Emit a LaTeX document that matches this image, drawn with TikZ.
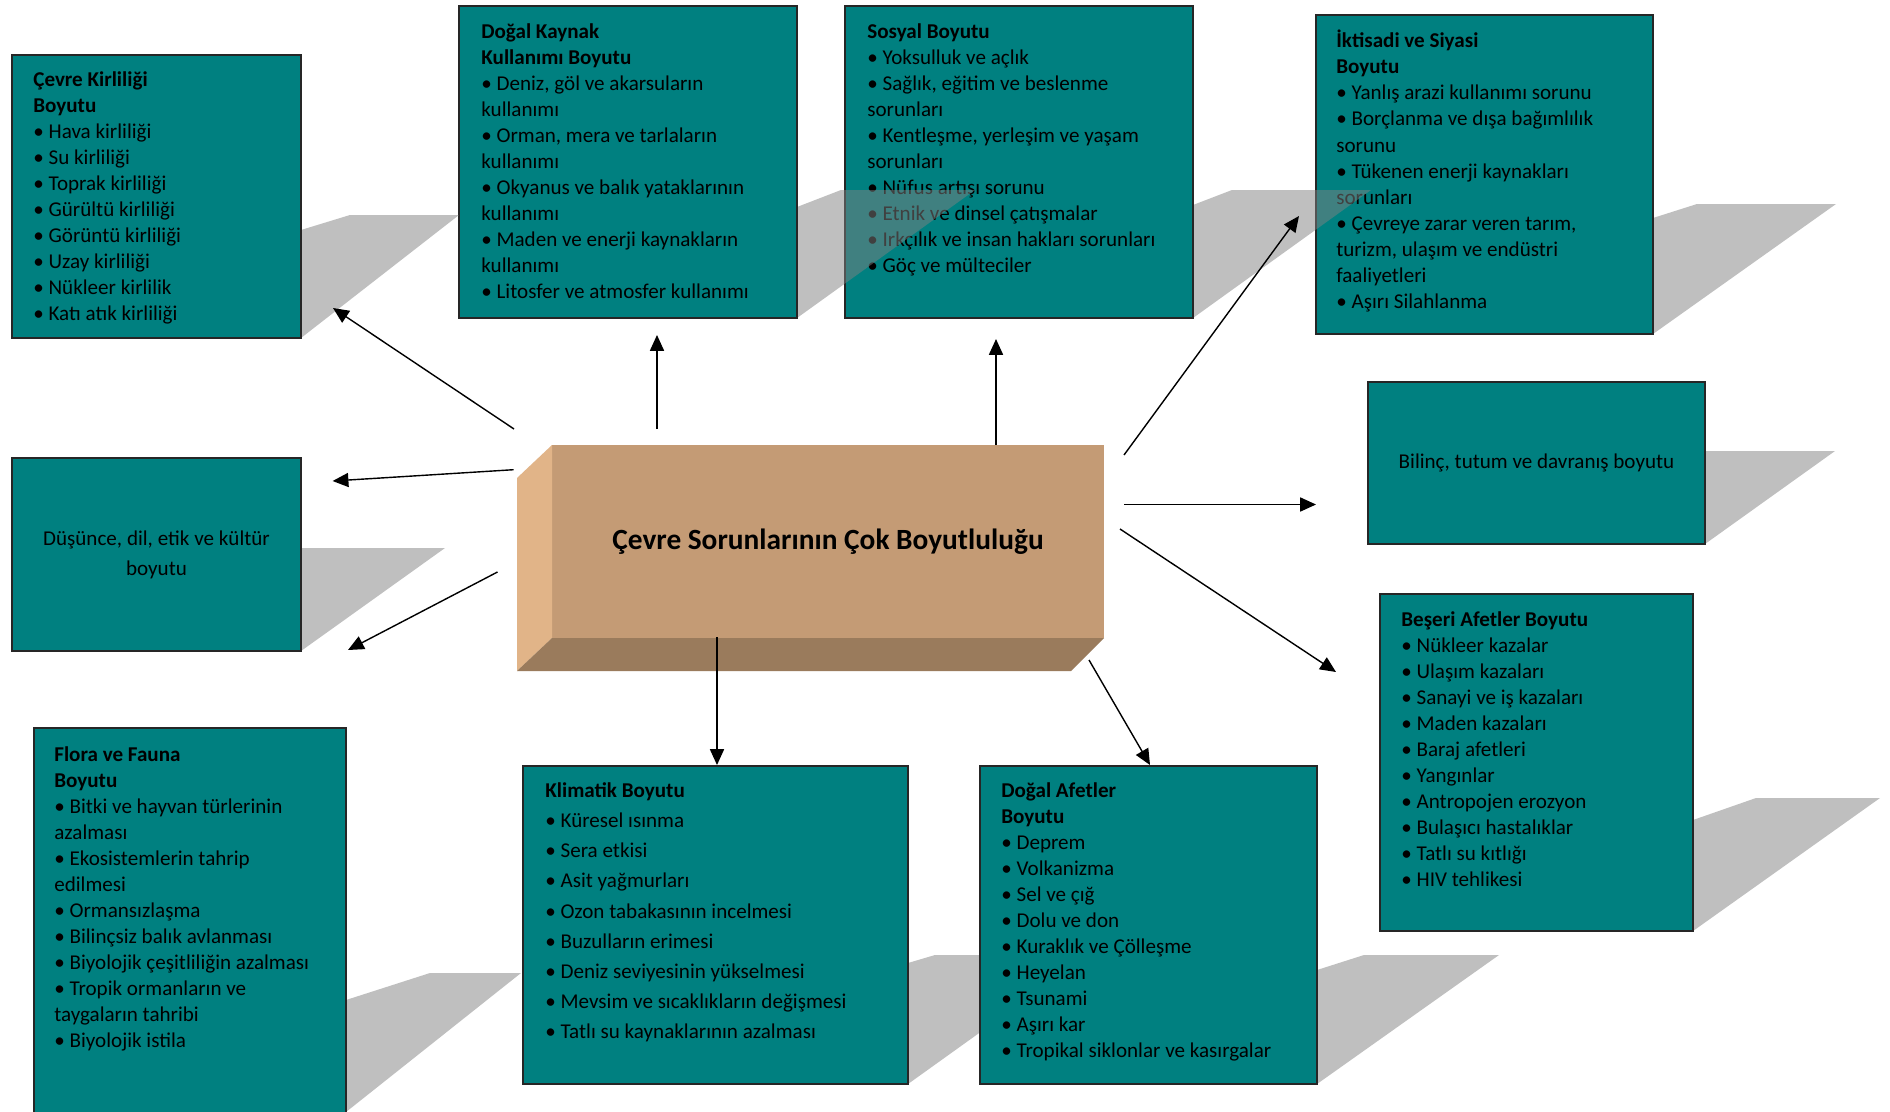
\documentclass[tikz,border=0pt]{standalone}
\usepackage{fontspec}
\setmainfont{Carlito}
\usetikzlibrary{arrows.meta,fit}

\definecolor{boxteal}{RGB}{0,128,128}
\definecolor{corefront}{RGB}{196,155,117}
\definecolor{coreside}{RGB}{225,180,136}
\definecolor{corebottom}{RGB}{154,123,92}

\tikzset{
  dimbox/.style={draw=black!85, line width=1.2pt, fill=boxteal, inner sep=0pt, outer sep=0pt},
  itemtext/.style={anchor=north west, inner sep=0pt, align=left, font=\fontsize{12pt}{14.8pt}\selectfont},
  shadowfill/.style={fill=black!50, fill opacity=0.5},
  arrow/.style={-{Triangle[length=9pt,width=8pt]}, line width=0.8pt}
}

% corner, rise start, rise dx, height, width
\newcommand{\dropshadow}[5]{%
  \fill[shadowfill] #1 -- ++(0,-#2) -- ++(#3,#2-#4) -- ++(#5-#3,0) -- cycle;}

\begin{document}
\begin{tikzpicture}[x=0.02cm, y=-0.02cm]
  \path[use as bounding box, fill=white] (0,0) rectangle (1890,1112);

  % upper row
  \dropshadow{(1653,334)}{116}{44}{130}{183}
  \node[dimbox, fit={(1316,15) (1653,334)}] (iktisadi) {};
  \node[itemtext] (iktisadi-text) at (1336,30) {\textbf{İktisadi ve Siyasi}\\ \textbf{Boyutu}\\
    • Yanlış arazi kullanımı sorunu\\ • Borçlanma ve dışa bağımlılık\\ sorunu\\
    • Tükenen enerji kaynakları\\ sorunları\\ • Çevreye zarar veren tarım,\\
    turizm, ulaşım ve endüstri\\ faaliyetleri\\ • Aşırı Silahlanma};

  \dropshadow{(1193,318)}{113}{39}{128}{178}
  \node[dimbox, fit={(845,6) (1193,318)}] (sosyal) {};
  \node[itemtext] (sosyal-text) at (867,23) {\textbf{Sosyal Boyutu}\\ • Yoksulluk ve açlık\\
    • Sağlık, eğitim ve beslenme\\ sorunları\\ • Kentleşme, yerleşim ve yaşam\\ sorunları\\
    • Nüfus artışı sorunu\\ • Etnik ve dinsel çatışmalar\\ • Irkçılık ve insan hakları sorunları\\
    • Göç ve mülteciler};

  \dropshadow{(797,318)}{111}{44}{128}{178}
  \node[dimbox, fit={(459,6) (797,318)}] (kaynak) {};
  \node[itemtext] (kaynak-text) at (481,23) {\textbf{Doğal Kaynak}\\ \textbf{Kullanımı Boyutu}\\
    • Deniz, göl ve akarsuların\\ kullanımı\\ • Orman, mera ve tarlaların\\ kullanımı\\
    • Okyanus ve balık yataklarının\\ kullanımı\\ • Maden ve enerji kaynakların\\ kullanımı\\
    • Litosfer ve atmosfer kullanımı};

  \dropshadow{(301,338)}{108}{49}{123}{158}
  \node[dimbox, fit={(12,55) (301,338)}] (kirlilik) {};
  \node[itemtext] (kirlilik-text) at (33,71) {\textbf{Çevre Kirliliği}\\ \textbf{Boyutu}\\
    • Hava kirliliği\\ • Su kirliliği\\ • Toprak kirliliği\\ • Gürültü kirliliği\\
    • Görüntü kirliliği\\ • Uzay kirliliği\\ • Nükleer kirlilik\\ • Katı atık kirliliği};

  % middle row
  \dropshadow{(301,651)}{103}{0}{103}{144}
  \node[dimbox, fit={(12,458) (301,651)}] (dusunce) {};
  \node[align=center, font=\fontsize{12pt}{17pt}\selectfont] (dusunce-text) at (dusunce.center)
    {Düşünce, dil, etik ve kültür\\ boyutu};

  \dropshadow{(1705,544)}{93}{0}{93}{130}
  \node[dimbox, fit={(1368,382) (1705,544)}] (bilinc) {};
  \node[font=\fontsize{12pt}{14.8pt}\selectfont] (bilinc-text) at (bilinc.center)
    {Bilinç, tutum ve davranış boyutu};

  \dropshadow{(1693,931)}{111}{63}{133}{187}
  \node[dimbox, fit={(1380,594) (1693,931)}] (beseri) {};
  \node[itemtext] (beseri-text) at (1401,611) {\textbf{Beşeri Afetler Boyutu}\\
    • Nükleer kazalar\\ • Ulaşım kazaları\\ • Sanayi ve iş kazaları\\ • Maden kazaları\\
    • Baraj afetleri\\ • Yangınlar\\ • Antropojen erozyon\\ • Bulaşıcı hastalıklar\\
    • Tatlı su kıtlığı\\ • HIV tehlikesi};

  % lower row
  \dropshadow{(346,1112)}{112}{84}{139}{175}
  \node[dimbox, fit={(34,728) (346,1130)}] (flora) {};
  \node[itemtext] (flora-text) at (54,746) {\textbf{Flora ve Fauna}\\ \textbf{Boyutu}\\
    • Bitki ve hayvan türlerinin\\ azalması\\ • Ekosistemlerin tahrip\\ edilmesi\\
    • Ormansızlaşma\\ • Bilinçsiz balık avlanması\\ • Biyolojik çeşitliliğin azalması\\
    • Tropik ormanların ve\\ taygaların tahribi\\ • Biyolojik istila};

  \dropshadow{(908,1084)}{121}{27}{129}{180}
  \node[dimbox, fit={(523,766) (908,1084)}] (klimatik) {};
  \node[itemtext, font=\fontsize{12pt}{17.2pt}\selectfont] (klimatik-text) at (545,782)
    {\textbf{Klimatik Boyutu}\\ • Küresel ısınma\\ • Sera etkisi\\ • Asit yağmurları\\
    • Ozon tabakasının incelmesi\\ • Buzulların erimesi\\ • Deniz seviyesinin yükselmesi\\
    • Mevsim ve sıcaklıkların değişmesi\\ • Tatlı su kaynaklarının azalması};

  \dropshadow{(1317,1084)}{114}{47}{129}{182}
  \node[dimbox, fit={(980,766) (1317,1084)}] (afet) {};
  \node[itemtext] (afet-text) at (1001,782) {\textbf{Doğal Afetler}\\ \textbf{Boyutu}\\
    • Deprem\\ • Volkanizma\\ • Sel ve çığ\\ • Dolu ve don\\ • Kuraklık ve Çölleşme\\
    • Heyelan\\ • Tsunami\\ • Aşırı kar\\ • Tropikal siklonlar ve kasırgalar};

  % central block
  \node[fill=corefront, inner sep=0pt, outer sep=0pt, fit={(552,445) (1104,638)}] (core) {};
  \fill[coreside] (core.north west) -- ++(-35,33) -- ++(0,193) -- (core.south west) -- cycle;
  \fill[corebottom] (core.south west) -- (core.south east) -- ++(-33,33) -- ++(-554,0) -- cycle;
  \node[font=\fontsize{16.7pt}{20pt}\selectfont\bfseries] (core-title) at (core.center)
    {Çevre Sorunlarının Çok Boyutluluğu};

  % arrows
  \coordinate (out1) at (514,429);    \coordinate (in1) at (333,308);
  \coordinate (out2) at (657,429);    \coordinate (in2) at (657,335);
  \coordinate (out3) at (996,445);    \coordinate (in3) at (996,339);
  \coordinate (out4) at (1124,455);   \coordinate (in4) at (1299,216);
  \coordinate (out5) at (1124,504.5); \coordinate (in5) at (1316,504.5);
  \coordinate (out6) at (1120,529);   \coordinate (in6) at (1336,672);
  \coordinate (out7) at (1089,660);   \coordinate (in7) at (1150,765);
  \coordinate (out8) at (717,637);    \coordinate (in8) at (717,765);
  \coordinate (out9) at (497.5,572);  \coordinate (in9) at (348,650);
  \coordinate (out10) at (513.6,469.7); \coordinate (in10) at (332.6,481);
  \foreach \i in {1,...,10}
    {\draw[arrow] (out\i) -- (in\i);}
\end{tikzpicture}
\end{document}
